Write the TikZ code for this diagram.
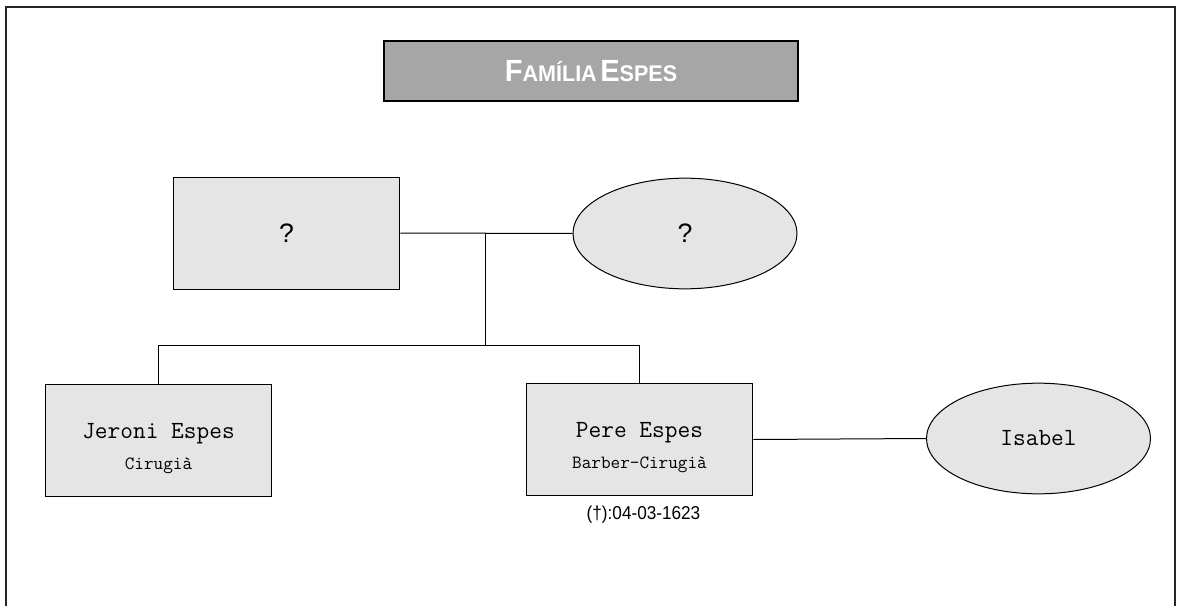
\documentclass[tikz,border=0pt]{standalone}
\usepackage{fontspec}
\setmainfont{Liberation Sans}
\newfontfamily\titfont[FakeStretch=0.95]{Liberation Sans}
\newfontfamily\datafont[FakeStretch=0.92]{Liberation Sans}
\usetikzlibrary{positioning,shapes.geometric}
\definecolor{grisclar}{HTML}{E5E5E5}
\definecolor{grisfosc}{HTML}{A6A6A6}

\begin{document}
\begin{tikzpicture}[
      x=0.75pt, y=-0.75pt,
      home/.style={draw=black, fill=grisclar, line width=0.75pt,
                   minimum width=170pt, minimum height=84pt,
                   align=center, inner sep=0pt,
                   font=\ttfamily\fontsize{14}{23.25}\selectfont},
      dona/.style={ellipse, draw=black, fill=grisclar, line width=0.75pt,
                   minimum width=168pt, minimum height=83pt,
                   align=center, inner sep=0pt},
      titol/.style={draw=black, fill=grisfosc, line width=1.5pt,
                    minimum width=310pt, minimum height=45pt,
                    text=white, font=\titfont\bfseries},
      nom/.style={font=\ttfamily\fontsize{18.5}{23.25}\selectfont},
      dubte/.style={font=\fontsize{20}{24}\selectfont},
      lligam/.style={line width=0.75pt, black}
  ]
      \useasboundingbox (0,0) rectangle (1177,606);
      % marc de la pàgina
      \draw[line width=1.5pt, black!85] (6,606) -- (6,7) -- (1175,7) -- (1175,606);

      % Títol
      \node[titol] (t) at (591,71) {{\fontsize{23}{26}\selectfont F}{\fontsize{17}{20}\selectfont AMÍLIA}
          {\fontsize{23}{26}\selectfont E}{\fontsize{17}{20}\selectfont SPES}};

      % Pares
      \node[home, dubte] (pa) at (286.5,233) {?};
      \node[dona, dubte] (ma) at (685,233.5) {?};

      % Fills
      \node[home] (je) at (158.5,440.5) {\rule{0pt}{23pt}{\fontsize{18.5}{23.25}\selectfont Jeroni Espes}\\Cirugià};
      \node[home] (pe) at (639.5,439.5) {\rule{0pt}{23pt}{\fontsize{18.5}{23.25}\selectfont Pere Espes}\\Barber-Cirugià};
      \node[dona, nom] (is) at (1038.5,438.5) {Isabel};
      \node[below=4pt of pe, xshift=3pt, font=\datafont\fontsize{14}{16}\selectfont] (mort) {(†):04-03-1623};

      % Lligams
      \coordinate (m1) at (485,233);
      \coordinate (m2) at (485,345);
      \draw[lligam] (pa.east) -- (ma.west);
      \draw[lligam] (m1) -- (m2);
      \draw[lligam] (m2) -| (je.north);
      \draw[lligam] (m2) -| (pe.north);
      \draw[lligam] (pe.east) -- (is.west);
  \end{tikzpicture}
\end{document}
